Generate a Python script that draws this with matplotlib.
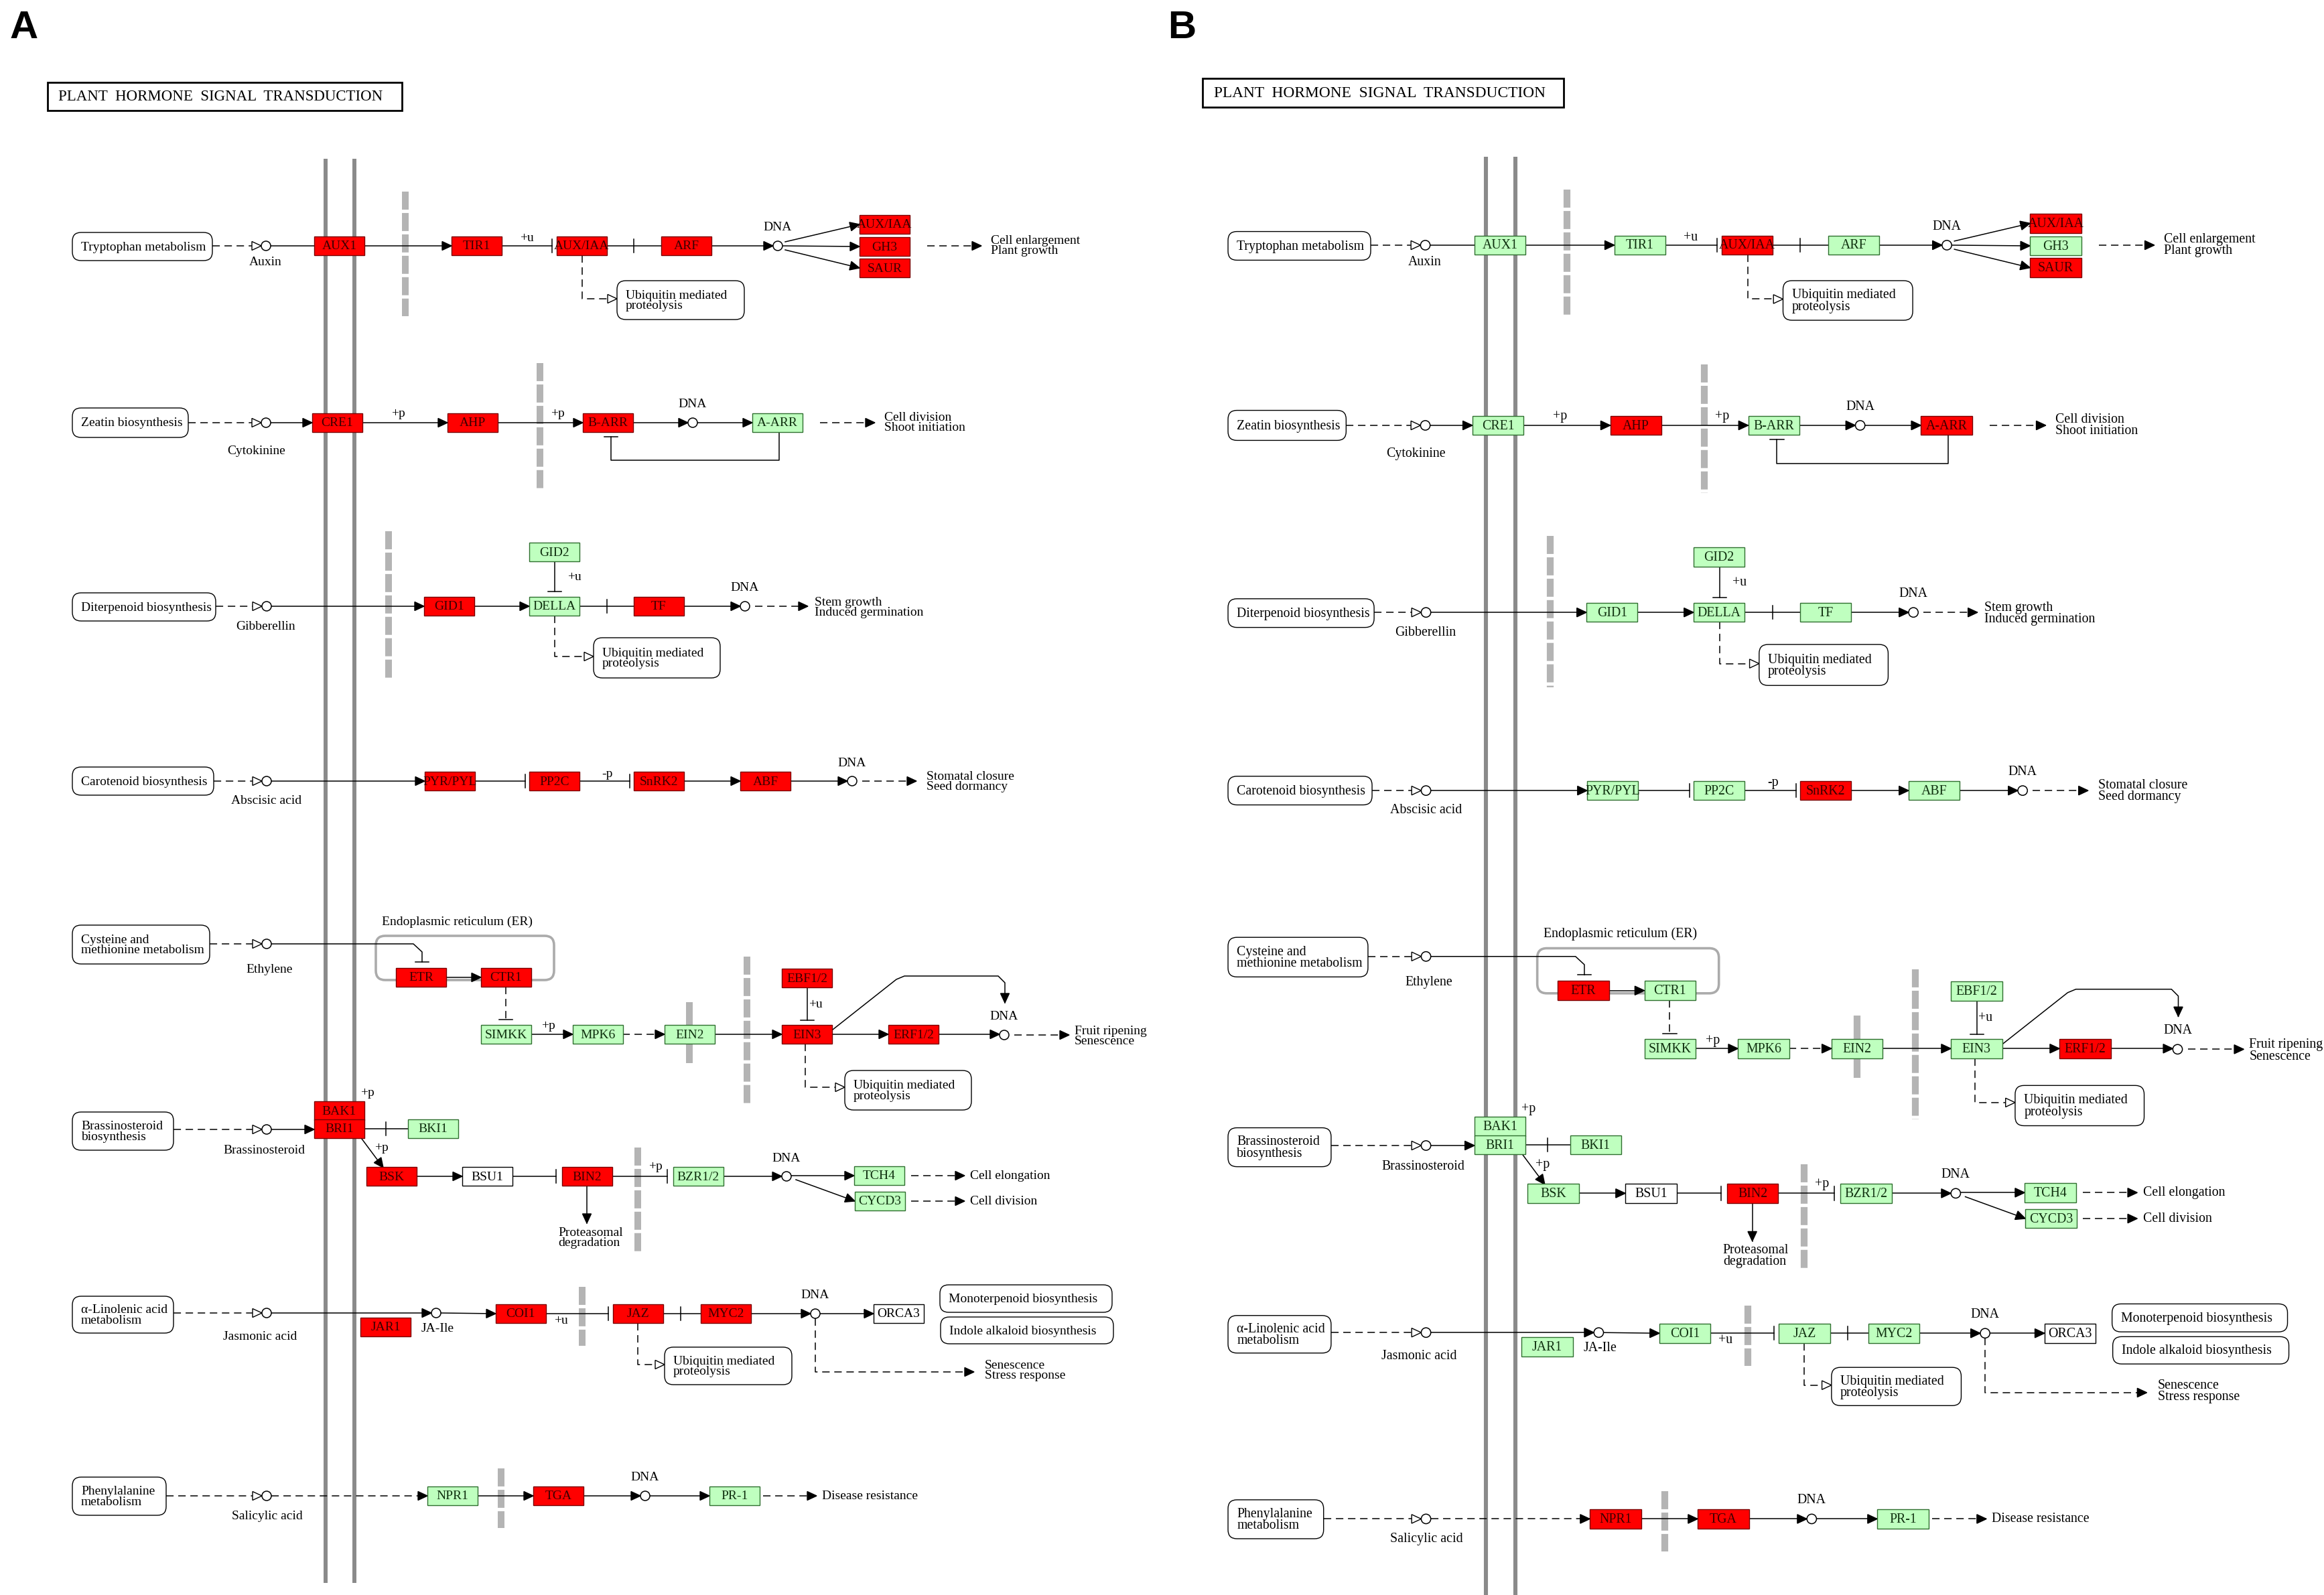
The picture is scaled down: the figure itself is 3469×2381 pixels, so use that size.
import math
import matplotlib
matplotlib.use("Agg")
import matplotlib.pyplot as plt
from matplotlib.patches import Rectangle, FancyBboxPatch, Polygon, Circle

plt.rcParams["font.family"] = ["Liberation Serif", "DejaVu Serif"]
plt.rcParams["lines.scale_dashes"] = False

# ---- data -------------------------------------------------------------
genes = ["AUX1", "TIR1", "AUX/IAA", "ARF", "AUX/IAA", "GH3", "SAUR",
         "CRE1", "AHP", "B-ARR", "A-ARR",
         "GID2", "GID1", "DELLA", "TF",
         "PYR/PYL", "PP2C", "SnRK2", "ABF",
         "ETR", "CTR1", "SIMKK", "MPK6", "EIN2", "EBF1/2", "EIN3", "ERF1/2",
         "BAK1", "BRI1", "BKI1", "BSK", "BSU1", "BIN2", "BZR1/2", "TCH4", "CYCD3",
         "JAR1", "COI1", "JAZ", "MYC2", "ORCA3",
         "NPR1", "TGA", "PR-1"]

# r = marked red, g = green (in organism), w = not marked
state_a = "rrrrrrr" "rrrg" "grgr" "rrrr" "rrgggrrr" "rrgrwrggg" "rrrrw" "grg"
state_b = "ggrgrgr" "grgr" "gggg" "ggrg" "rggggggr" "ggggwrggg" "ggggw" "rrg"

maps = ["Tryptophan metabolism", "Zeatin biosynthesis", "Diterpenoid biosynthesis",
        "Carotenoid biosynthesis", "Cysteine and\nmethionine metabolism",
        "Brassinosteroid\nbiosynthesis", "\u03b1-Linolenic acid\nmetabolism",
        "Phenylalanine\nmetabolism",
        "Ubiquitin mediated\nproteolysis", "Ubiquitin mediated\nproteolysis",
        "Ubiquitin mediated\nproteolysis", "Ubiquitin mediated\nproteolysis",
        "Monoterpenoid biosynthesis", "Indole alkaloid biosynthesis"]

compounds = ["Auxin", "Cytokinine", "Gibberellin", "Abscisic acid", "Ethylene",
             "Brassinosteroid", "Jasmonic acid", "Salicylic acid", "JA-Ile"]

outcomes = ["Cell enlargement\nPlant growth", "Cell division\nShoot initiation",
            "Stem growth\nInduced germination", "Stomatal closure\nSeed dormancy",
            "Fruit ripening\nSenescence", "Cell elongation", "Cell division",
            "Senescence\nStress response", "Disease resistance",
            "Proteasomal\ndegradation"]

# ---- layout (pixel positions in panel A) ---------------------------------
gene_x = [469, 674, 831, 987, 1283, 1283, 1283,
          466, 668, 870, 1123,
          790, 633, 790, 946,
          634, 790, 946, 1105,
          591, 718, 718, 855, 992, 1167, 1167, 1326,
          469, 469, 609, 547, 690, 839, 1005, 1275, 1276,
          538, 740, 915, 1046, 1304,
          638, 796, 1059]
gene_y = [367, 367, 367, 367, 335, 368, 400,
          631, 631, 631, 631,
          824, 905, 905, 905,
          1166, 1166, 1166, 1166,
          1459, 1459, 1544, 1544, 1544, 1460, 1544, 1544,
          1658, 1685, 1685, 1756, 1756, 1756, 1756, 1755, 1793,
          1981, 1961, 1961, 1961, 1961,
          2233, 2233, 2233]
map_box = [(108, 317, 347, 389), (108, 281, 609, 653), (108, 322, 885, 927),
           (108, 319, 1145, 1187), (108, 313, 1381, 1439), (108, 259, 1660, 1717),
           (108, 259, 1935, 1990), (108, 248, 2205, 2262),
           (921, 1111, 419, 477), (886, 1075, 952, 1012), (1261, 1450, 1598, 1657),
           (992, 1182, 2011, 2067), (1403, 1660, 1918, 1959), (1404, 1662, 1966, 2006)]
cpd_xy = [(397, 367), (397, 631), (398, 905), (398, 1166), (398, 1409),
          (398, 1686), (398, 1960), (398, 2233), (651, 1960)]
cpd_lab = [(396, 392), (383, 673), (397, 935), (398, 1195), (402, 1447),
           (394, 1717), (388, 1995), (399, 2263), (653, 1983)]
dna_xy = [(1161, 367), (1034, 631), (1112, 905), (1272, 1166), (1499, 1545),
          (1174, 1756), (1217, 1961), (963, 2233)]
out_xy = [(1479, 367), (1320, 631), (1216, 907), (1383, 1167), (1604, 1547),
          (1448, 1755), (1448, 1793), (1470, 2046), (1227, 2233), (833, 1848)]
mods = [("+u", 786, 356), ("+p", 594, 618), ("+p", 832, 618), ("+u", 857, 861),
        ("-p", 906, 1155), ("+p", 818, 1532), ("+u", 1217, 1499), ("+p", 548, 1632),
        ("+p", 569, 1714), ("+p", 978, 1742), ("+u", 837, 1971)]

FILL = {"r": "#ff0000", "g": "#bfffbf", "w": "#ffffff"}
EDGE = {"r": "#7a0000", "g": "#2f6f2f", "w": "#000000"}
TXT = {"r": "#3a0000", "g": "#0f2f0f", "w": "#000000"}
BW, BH = 75, 28


def draw_panel(ax, state, ox, oy, s):
    fs = 14 * s

    def X(x):
        return ox + s * x

    def Y(y):
        return oy + s * y

    def seg(pts, dashed=False):
        ax.plot([X(p[0]) for p in pts], [Y(p[1]) for p in pts], color="black",
                lw=1.1, ls=(0, (8, 5)) if dashed else "-", zorder=2)

    def head(x, y, dx, dy, hollow=False):
        L, w = 14, 6.5
        bx, by = x - dx * L, y - dy * L
        pts = [(X(x), Y(y)), (X(bx - dy * w), Y(by + dx * w)),
               (X(bx + dy * w), Y(by - dx * w))]
        ax.add_patch(Polygon(pts, closed=True, fc="white" if hollow else "black",
                             ec="black", lw=1.0, zorder=3))

    def arrow(pts, dashed=False, hollow=False):
        seg(pts, dashed)
        (x0, y0), (x1, y1) = pts[-2], pts[-1]
        d = math.hypot(x1 - x0, y1 - y0)
        head(x1, y1, (x1 - x0) / d, (y1 - y0) / d, hollow)

    def tbar(x, y, horiz=False):
        h = 10
        if horiz:
            seg([(x - h, y), (x + h, y)])
        else:
            seg([(x, y - h), (x, y + h)])

    def graybar(x, y0, y1, solid=False):
        ax.plot([X(x), X(x)], [Y(y0), Y(y1)], color="#b4b4b4", lw=7.2 * s,
                ls="-" if solid else (0, (19.4, 3.6)), solid_capstyle="butt", zorder=1)

    def map_input(xr, xc, y):
        arrow([(xr, y), (xc - 7, y)], dashed=True, hollow=True)

    # membranes
    for mx in (486, 529):
        ax.plot([X(mx), X(mx)], [Y(237), Y(2363)], color="#8a8a8a", lw=4.3 * s,
                solid_capstyle="butt", zorder=1)

    # title box
    ax.add_patch(Rectangle((X(71), Y(123)), 529 * s, 42 * s, fc="white", ec="black",
                           lw=2.0, zorder=3))
    ax.text(X(87), Y(145), "PLANT  HORMONE  SIGNAL  TRANSDUCTION", fontsize=16.5 * s,
            ha="left", va="center", zorder=4)

    # gray barriers
    graybar(605, 286, 472)
    graybar(806, 542, 730)
    graybar(580, 793, 1015)
    graybar(1029, 1496, 1587, solid=True)
    graybar(1115, 1428, 1648)
    graybar(952, 1713, 1869)
    graybar(869, 1921, 2009)
    graybar(748, 2192, 2281)

    # ER compartment
    ax.add_patch(FancyBboxPatch((X(561), Y(1397)), 266 * s, 66 * s,
                                boxstyle="round,pad=0,rounding_size=%g" % (14 * s),
                                fc="none", ec="#ababab", lw=2.6, zorder=1))
    ax.text(X(570), Y(1376), "Endoplasmic reticulum (ER)", fontsize=fs, ha="left",
            va="center", zorder=4)

    # edges: auxin
    map_input(317, 397, 367)
    seg([(404, 367), (469, 367)])
    arrow([(544, 367), (674, 367)])
    seg([(749, 367), (824, 367)]); tbar(824, 367)
    seg([(906, 367), (987, 367)]); tbar(946, 367)
    arrow([(1062, 367), (1154, 367)])
    arrow([(1172, 361), (1283, 335)])
    arrow([(1169, 367), (1283, 368)])
    arrow([(1172, 373), (1283, 400)])
    arrow([(1384, 367), (1465, 367)], dashed=True)
    seg([(869, 381), (869, 446), (907, 446)], dashed=True)
    head(921, 446, 1, 0, hollow=True)
    # cytokinine
    map_input(281, 397, 631)
    arrow([(404, 631), (466, 631)])
    arrow([(542, 631), (668, 631)])
    arrow([(744, 631), (870, 631)])
    arrow([(945, 631), (1027, 631)])
    arrow([(1041, 631), (1123, 631)])
    seg([(1163, 645), (1163, 687), (912, 687), (912, 652)]); tbar(912, 652, horiz=True)
    arrow([(1224, 631), (1306, 631)], dashed=True)
    # gibberellin
    map_input(322, 398, 905)
    arrow([(405, 905), (633, 905)])
    arrow([(708, 905), (790, 905)])
    seg([(828, 838), (828, 883)]); tbar(828, 883, horiz=True)
    seg([(866, 905), (946, 905)]); tbar(906, 905)
    arrow([(1022, 905), (1105, 905)])
    arrow([(1127, 905), (1206, 905)], dashed=True)
    seg([(828, 919), (828, 980), (872, 980)], dashed=True)
    head(886, 980, 1, 0, hollow=True)
    # abscisic acid
    map_input(319, 398, 1166)
    arrow([(405, 1166), (634, 1166)])
    seg([(710, 1166), (784, 1166)]); tbar(784, 1166)
    seg([(866, 1166), (940, 1166)]); tbar(940, 1166)
    arrow([(1022, 1166), (1105, 1166)])
    arrow([(1181, 1166), (1265, 1166)])
    arrow([(1287, 1166), (1368, 1166)], dashed=True)
    # ethylene
    map_input(313, 398, 1409)
    seg([(405, 1409), (617, 1409), (630, 1421), (630, 1436)]); tbar(630, 1436, horiz=True)
    arrow([(666, 1459), (718, 1459)])
    seg([(755, 1473), (755, 1522)], dashed=True); tbar(755, 1522, horiz=True)
    arrow([(793, 1544), (855, 1544)])
    arrow([(929, 1544), (992, 1544)], dashed=True)
    arrow([(1068, 1544), (1167, 1544)])
    seg([(1205, 1474), (1205, 1523)]); tbar(1205, 1523, horiz=True)
    arrow([(1243, 1544), (1326, 1544)])
    arrow([(1402, 1544), (1492, 1544)])
    arrow([(1243, 1537), (1338, 1462), (1350, 1457), (1490, 1457), (1500, 1467),
           (1500, 1497)])
    arrow([(1514, 1545), (1596, 1545)], dashed=True)
    seg([(1202, 1558), (1202, 1623), (1247, 1623)], dashed=True)
    head(1261, 1623, 1, 0, hollow=True)
    # brassinosteroid
    map_input(259, 398, 1686)
    arrow([(405, 1686), (469, 1686)])
    seg([(544, 1685), (609, 1685)]); tbar(576, 1685)
    arrow([(540, 1700), (572, 1743)])
    arrow([(622, 1756), (690, 1756)])
    seg([(765, 1756), (830, 1756)]); tbar(830, 1756)
    arrow([(876, 1770), (876, 1826)])
    seg([(914, 1756), (996, 1756)]); tbar(996, 1756)
    arrow([(1081, 1756), (1167, 1756)])
    arrow([(1181, 1755), (1275, 1755)])
    arrow([(1188, 1761), (1276, 1793)])
    arrow([(1360, 1755), (1440, 1755)], dashed=True)
    arrow([(1360, 1793), (1440, 1793)], dashed=True)
    # jasmonic acid
    map_input(259, 398, 1960)
    arrow([(405, 1960), (644, 1960)])
    arrow([(658, 1960), (740, 1961)])
    seg([(815, 1961), (908, 1961)]); tbar(908, 1961)
    seg([(991, 1961), (1046, 1961)]); tbar(1016, 1961)
    arrow([(1121, 1961), (1210, 1961)])
    arrow([(1224, 1961), (1304, 1961)])
    arrow([(1217, 1968), (1217, 2048), (1454, 2048)], dashed=True)
    seg([(952, 1975), (952, 2037), (978, 2037)], dashed=True)
    head(992, 2037, 1, 0, hollow=True)
    # salicylic acid
    map_input(248, 398, 2233)
    arrow([(405, 2233), (638, 2233)], dashed=True)
    arrow([(713, 2233), (796, 2233)])
    arrow([(871, 2233), (956, 2233)])
    arrow([(970, 2233), (1059, 2233)])
    arrow([(1139, 2233), (1219, 2233)], dashed=True)

    # map boxes
    for name, (x0, x1, y0, y1) in zip(maps, map_box):
        ax.add_patch(FancyBboxPatch((X(x0), Y(y0)), (x1 - x0) * s, (y1 - y0) * s,
                                    boxstyle="round,pad=0,rounding_size=%g" % (13 * s),
                                    fc="white", ec="black", lw=1.0, zorder=3))
        ax.text(X(x0 + 13), Y((y0 + y1) / 2 + 1), name, fontsize=fs, ha="left",
                va="center", linespacing=0.88, zorder=4)

    # compounds
    for name, (cx, cy), (lx, ly) in zip(compounds, cpd_xy, cpd_lab):
        ax.add_patch(Circle((X(cx), Y(cy)), 7 * s, fc="white", ec="black", lw=1.1,
                            zorder=3))
        ax.text(X(lx), Y(ly), name, fontsize=fs, ha="center", va="center", zorder=4)
    for cx, cy in dna_xy:
        ax.add_patch(Circle((X(cx), Y(cy)), 7 * s, fc="white", ec="black", lw=1.1,
                            zorder=3))
        ax.text(X(cx), Y(cy - 27), "DNA", fontsize=fs, ha="center", va="center",
                zorder=4)

    for name, (tx, ty) in zip(outcomes, out_xy):
        ax.text(X(tx), Y(ty), name, fontsize=fs, ha="left", va="center",
                linespacing=0.88, zorder=4)
    for name, tx, ty in mods:
        ax.text(X(tx), Y(ty), name, fontsize=fs, ha="center", va="center", zorder=4)

    # gene boxes
    for name, gx, gy, st in zip(genes, gene_x, gene_y, state):
        ax.add_patch(Rectangle((X(gx), Y(gy - BH / 2)), BW * s, BH * s, fc=FILL[st],
                               ec=EDGE[st], lw=1.0, zorder=3))
        ax.text(X(gx + BW / 2), Y(gy + 1), name, fontsize=fs, color=TXT[st],
                ha="center", va="center", zorder=4)


fig = plt.figure(figsize=(34.69, 23.81), dpi=100)
ax = fig.add_axes([0, 0, 1, 1])
ax.set_xlim(0, 3469)
ax.set_ylim(2381, 0)
ax.axis("off")

draw_panel(ax, state_a, 0, 0, 1.0)
draw_panel(ax, state_b, 1723, -8, 1.019)

for lab, lx in (("A", 36), ("B", 1764)):
    ax.text(lx, 42, lab, fontsize=42, fontweight="bold", family="Liberation Sans",
            ha="center", va="center")

fig.savefig("out.png", dpi=100, facecolor="white")
